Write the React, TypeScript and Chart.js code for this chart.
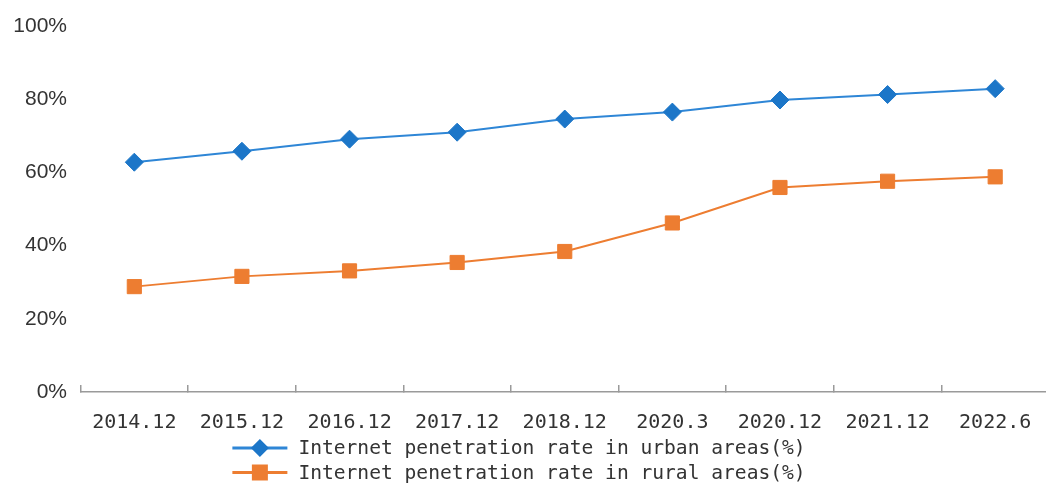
import { useEffect, useRef } from 'react';
import { Chart, registerables } from 'chart.js';

Chart.register(...registerables);

// Survey periods
const categories = ['2014.12', '2015.12', '2016.12', '2017.12', '2018.12', '2020.3', '2020.12', '2021.12', '2022.6'];

// Penetration rates (%)
const urbanRate = [62.8, 65.8, 69.1, 71.0, 74.6, 76.5, 79.8, 81.3, 82.9];
const ruralRate = [28.8, 31.6, 33.1, 35.4, 38.4, 46.2, 55.9, 57.6, 58.8];

const seriesNames = [
  'Internet penetration rate in urban areas(%)',
  'Internet penetration rate in rural areas(%)',
];

const yTicks = [0, 20, 40, 60, 80, 100];

const BLUE_LINE = '#2e86d6';
const BLUE_MARK = '#1c76c8';
const ORANGE = '#ed7d31';
const TEXT = '#333333';
const AXIS = '#9a9a9a';

const MONO = '"DejaVu Sans Mono", "Liberation Mono", monospace';
const SANS = '"Liberation Sans", Arial, sans-serif';

function drawMarker(ctx: CanvasRenderingContext2D, style: string, x: number, y: number, color: string) {
  ctx.save();
  ctx.fillStyle = color;
  ctx.beginPath();
  if (style === 'rectRot') {
    const r = 9;
    ctx.moveTo(x - r, y);
    ctx.lineTo(x, y - r);
    ctx.lineTo(x + r, y);
    ctx.lineTo(x, y + r);
  } else {
    const h = 8;
    ctx.rect(x - h, y - h, 2 * h, 2 * h);
  }
  ctx.closePath();
  ctx.fill();
  ctx.restore();
}

// Two-row legend below the category axis
const stackedLegend = {
  id: 'stackedLegend',
  afterDraw(chart: any) {
    const ctx: CanvasRenderingContext2D = chart.ctx;
    const top = chart.chartArea.bottom + 56;
    const rowGap = 24.5;
    const lineLen = 55;
    const gap = 11;
    const center = 519;
    ctx.save();
    ctx.font = '19.6px ' + MONO;
    ctx.textBaseline = 'middle';
    ctx.textAlign = 'left';
    chart.data.datasets.forEach((ds: any, i: number) => {
      const y = top + i * rowGap;
      const w = ctx.measureText(ds.label).width;
      const x0 = center - (lineLen + gap + w) / 2;
      ctx.strokeStyle = ds.borderColor;
      ctx.lineWidth = 3;
      ctx.beginPath();
      ctx.moveTo(x0, y);
      ctx.lineTo(x0 + lineLen, y);
      ctx.stroke();
      drawMarker(ctx, ds.pointStyle, x0 + lineLen / 2, y, ds.pointBackgroundColor);
      ctx.fillStyle = TEXT;
      ctx.fillText(ds.label, x0 + lineLen + gap, y + 1);
    });
    ctx.restore();
  },
};

export default function App() {
  const canvasRef = useRef<HTMLCanvasElement | null>(null);

  useEffect(() => {
    if (!canvasRef.current) return;
    const chart = new Chart(canvasRef.current, {
      type: 'line',
      data: {
        labels: categories,
        datasets: [
          {
            label: seriesNames[0],
            data: urbanRate,
            borderColor: BLUE_LINE,
            borderWidth: 2,
            pointStyle: 'rectRot',
            pointRadius: 9,
            pointBorderWidth: 1,
            pointBackgroundColor: BLUE_MARK,
            pointBorderColor: BLUE_MARK,
            tension: 0,
          },
          {
            label: seriesNames[1],
            data: ruralRate,
            borderColor: ORANGE,
            borderWidth: 2,
            pointStyle: 'rect',
            pointRadius: 10,
            pointBorderWidth: 1,
            pointBackgroundColor: ORANGE,
            pointBorderColor: ORANGE,
            tension: 0,
          },
        ],
      },
      options: {
        responsive: false,
        animation: false,
        layout: { padding: { top: 24, left: 0, right: 3, bottom: 56 } },
        plugins: {
          legend: { display: false },
          tooltip: { enabled: false },
        },
        scales: {
          x: {
            offset: true,
            grid: {
              offset: true,
              drawOnChartArea: false,
              drawTicks: true,
              tickLength: -7,
              color: AXIS,
              lineWidth: 1.5,
            },
            border: { display: true, color: AXIS, width: 1.5 },
            ticks: {
              color: TEXT,
              font: { family: MONO, size: 20 },
              padding: 25.5,
              maxRotation: 0,
              autoSkip: false,
            },
            afterFit: (s: any) => {
              s.height = 42;
            },
          },
          y: {
            min: 0,
            max: 100,
            grid: { display: false, drawTicks: false },
            border: { display: false },
            ticks: {
              color: TEXT,
              font: { family: SANS, size: 21 },
              padding: 13.5,
              callback: (v: any) => v + '%',
            },
            afterBuildTicks: (s: any) => {
              s.ticks = yTicks.map((v) => ({ value: v }));
            },
            afterFit: (s: any) => {
              s.width = 80.5;
            },
          },
        },
      },
      plugins: [stackedLegend],
    });
    return () => chart.destroy();
  }, []);

  return (
    <div
      style={{
        position: 'fixed',
        left: 0,
        top: 0,
        width: 1046,
        height: 484,
        overflow: 'hidden',
        background: '#ffffff',
      }}
    >
      <canvas ref={canvasRef} width={1060} height={490} style={{ display: 'block' }} />
    </div>
  );
}
